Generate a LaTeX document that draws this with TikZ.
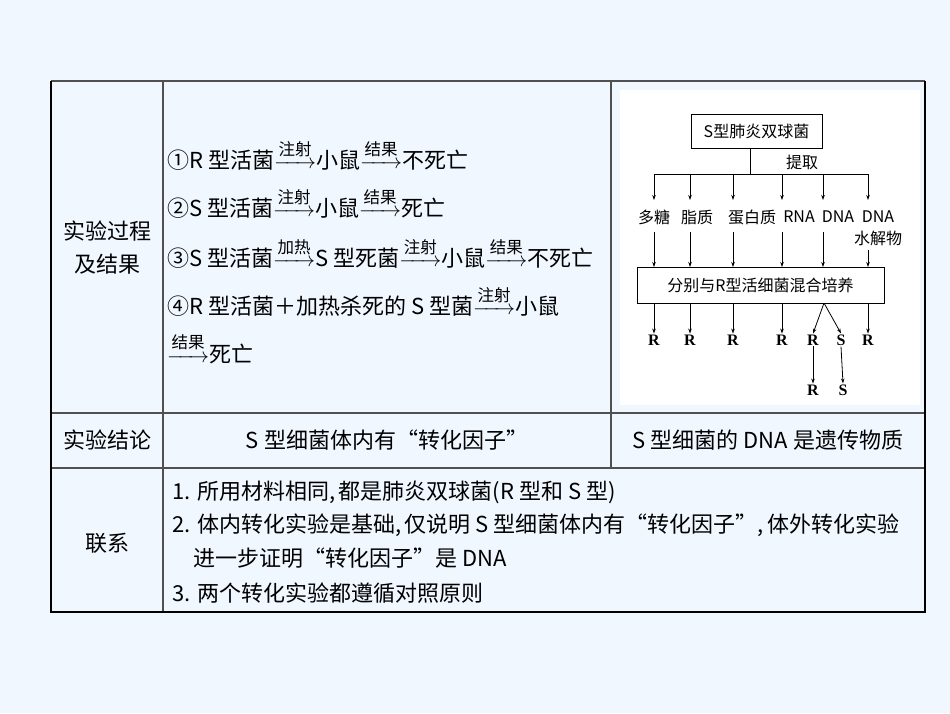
\documentclass[tikz,border=0pt]{standalone}
\usepackage{amsmath}
\usepackage{fontspec}
\setmainfont{Noto Sans CJK SC}
\newfontfamily\latn{Liberation Serif}
\usetikzlibrary{arrows.meta}
\definecolor{bgc}{HTML}{F0F7FF}
\definecolor{lnc}{HTML}{505050}
\newcommand{\ar}[1]{$\mathrel{\mathop{\hbox to 42pt{\rightarrowfill}}\limits^{\raisebox{2pt}{\fontsize{16.5}{16}\selectfont #1}}}$}
\begin{document}
\begin{tikzpicture}[x=1pt,y=-1pt,
  tl/.style={draw=lnc,line width=1.2pt},
  big/.style={font=\fontsize{22}{24}\selectfont,inner sep=0pt},
  lft/.style={big,anchor=west},
  sm/.style={font=\fontsize{16}{18}\selectfont,inner sep=1pt},
  rs/.style={font=\fontsize{16}{18}\selectfont\latn\bfseries,inner sep=1pt},
  dar/.style={-{Stealth[length=5pt,width=3.5pt]},line width=0.8pt},
  bx/.style={draw,line width=0.8pt,inner sep=0pt}]
\useasboundingbox (0,0) rectangle (950,713);
\fill[bgc] (0,0) rectangle (950,713);
% table
\draw[tl] (51,81) -- (925,81);
\draw[tl] (51,413) -- (925,413);
\draw[tl] (51,468) -- (925,468);
\draw[tl] (163,81) -- (163,612);
\draw[tl] (611,81) -- (611,468);
\draw[line width=1.6pt] (51,81) -- (51,612) -- (925,612) -- (925,81);
% row 1
\node[big] (l1) at (107,231) {实验过程};
\node[big] (l2) at (107,264) {及结果};
\node[lft] (e1) at (167,155) {①R 型活菌\ar{注射}小鼠\ar{结果}不死亡};
\node[lft] (e2) at (167,203) {②S 型活菌\ar{注射}小鼠\ar{结果}死亡};
\node[lft] (e3) at (167,253) {③S 型活菌\ar{加热}S 型死菌\ar{注射}小鼠\ar{结果}不死亡};
\node[lft] (e4) at (167,301) {④R 型活菌＋加热杀死的 S 型菌\ar{注射}小鼠};
\node[lft] (e5) at (167,348) {\ar{结果}死亡};
% diagram
\fill[white] (620,90) rectangle (920,405);
\node[bx,sm,minimum width=131pt,minimum height=34pt] (top) at (756.5,131) {S型肺炎双球菌};
\coordinate (j) at (750,174);
\draw[line width=0.8pt] (top.south -| j) -- (j);
\node[sm] (tq) at (802,162) {提取};
\draw[line width=0.8pt] (654,174) -- (868,174);
\foreach \n/\x/\lx/\t in {a/654/654/多糖,b/690/697/脂质,c/733/752/蛋白质,d/782/799/RNA,e/823/838/DNA,f/868/878/DNA}{
  \coordinate (t\n) at (\x,174);
  \node[sm,anchor=center] (m\n) at (\lx,217) {\t};
  \draw[dar] (t\n) -- (\x,200);
}
\node[sm] (mf2) at (878,238) {水解物};
\node[bx,sm,minimum width=247pt,minimum height=36pt] (mix) at (760.5,285) {分别与R型活细菌混合培养};
\foreach \n/\x in {a/654,b/690,c/733,d/782,e/823}{
  \draw[dar] (\x,232) -- (\x,267);
}
\draw[dar] (868,250) -- (868,267);
\foreach \n/\x in {a/654,b/690,c/733,d/782,f/868}{
  \node[rs] (r\n) at (\x,340) {R};
  \draw[dar] (\x,303) -- (r\n.north);
}
\coordinate (br) at (824,303);
\node[rs] (re) at (813,340) {R};
\node[rs] (se) at (841,340) {S};
\draw[dar] (br) -- (re.north);
\draw[dar] (br) -- (se.north);
\node[rs] (re2) at (813,390) {R};
\node[rs] (se2) at (843,390) {S};
\draw[dar] (re.south) -- (re2.north);
\draw[dar] (se.south) -- (se2.north);
% row 2
\node[big] (c1) at (107,440) {实验结论};
\node[big] (c2) at (387,440) {S 型细菌体内有“转化因子”};
\node[big] (c3) at (768,440) {S 型细菌的 DNA 是遗传物质};
% row 3
\node[big] (k) at (107,543) {联系};
\node[lft] (k1) at (172,492) {1. 所用材料相同,\,都是肺炎双球菌(R 型和 S 型)};
\node[lft] (k2) at (172,525) {2. 体内转化实验是基础,\,仅说明 S 型细菌体内有“转化因子”,\,体外转化实验};
\node[lft] (k3) at (193,558) {进一步证明“转化因子”是 DNA};
\node[lft] (k4) at (172,593) {3. 两个转化实验都遵循对照原则};
\end{tikzpicture}
\end{document}
